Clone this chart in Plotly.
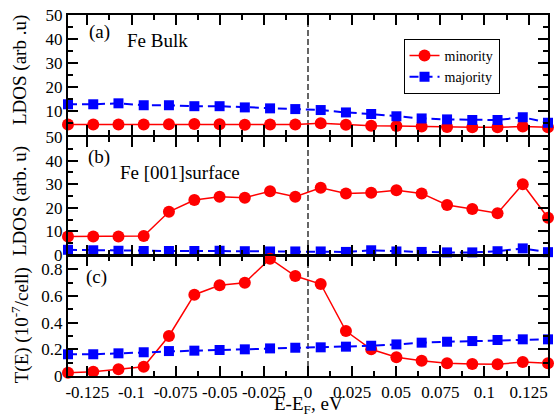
import plotly.graph_objects as go
from plotly.subplots import make_subplots

# ---------------- data ----------------
energy_ev = [-0.136, -0.1217, -0.1074, -0.0931, -0.0788, -0.0644, -0.0501, -0.0358, -0.0215, -0.0072,
             0.0072, 0.0215, 0.0358, 0.0501, 0.0644, 0.0788, 0.0931, 0.1074, 0.1217, 0.136]

bulk_minority = [4.4, 4.4, 4.4, 4.4, 4.5, 4.6, 4.5, 4.3, 4.4, 4.4,
                 4.9, 4.3, 3.9, 3.75, 3.5, 3.3, 3.2, 3.2, 3.5, 3.2]
bulk_majority = [12.8, 12.8, 13.2, 12.4, 12.4, 12.0, 12.0, 11.5, 11.1, 10.8,
                 10.4, 9.4, 8.75, 7.8, 6.9, 6.5, 6.25, 6.25, 7.4, 5.1]

surface_minority = [7.8, 7.8, 7.8, 8.05, 18.3, 23.3, 24.7, 24.3, 27.0, 24.7,
                    28.5, 26.1, 26.4, 27.4, 26.1, 21.2, 19.5, 17.7, 30.0, 15.8]
surface_majority = [2.2, 2.0, 1.8, 1.7, 1.7, 1.7, 1.8, 1.6, 1.5, 1.5,
                    1.5, 1.3, 2.0, 1.5, 1.3, 1.1, 1.1, 1.6, 2.8, 1.2]

trans_minority = [0.025, 0.032, 0.05, 0.07, 0.30, 0.61, 0.68, 0.70, 0.88, 0.75,
                  0.69, 0.337, 0.20, 0.14, 0.115, 0.095, 0.09, 0.088, 0.105, 0.095]
trans_majority = [0.163, 0.163, 0.17, 0.178, 0.187, 0.19, 0.195, 0.20, 0.207, 0.212,
                  0.215, 0.22, 0.227, 0.237, 0.25, 0.257, 0.262, 0.27, 0.275, 0.275]

x_tick_vals = [-0.125, -0.1, -0.075, -0.05, -0.025, 0, 0.025, 0.05, 0.075, 0.1, 0.125]
x_tick_text = ["-0.125", "-0.1", "-0.075", "-0.05", "-0.025", "0", "0.025", "0.05", "0.075", "0.1", "0.125"]
ldos_a_ticks = [10, 20, 30, 40, 50]
ldos_b_ticks = [0, 10, 20, 30, 40, 50]
trans_ticks = [0, 0.2, 0.4, 0.6, 0.8]
trans_tick_text = ["0", "0.2", "0.4", "0.6", "0.8"]

panel_letters = ["(a)", "(b)", "(c)"]
panel_names = ["Fe Bulk", "Fe [001]surface"]
y_titles = ["LDOS (arb .u)", "LDOS (arb. u)", "T(E) (10<sup>-7</sup>/cell)"]
x_title = "E-E<sub>F</sub>, eV"

# ---------------- figure ----------------
FONT = "Liberation Serif, Times New Roman, serif"
RED = "#ff0000"
BLUE = "#0000ff"

fig = make_subplots(rows=3, cols=1)

series = [
    (1, bulk_minority, bulk_majority, True),
    (2, surface_minority, surface_majority, False),
    (3, trans_minority, trans_majority, False),
]
for row, mino, majo, show in series:
    fig.add_trace(go.Scatter(
        x=energy_ev, y=mino, name="minority", mode="lines+markers",
        line=dict(color=RED, width=1.5),
        marker=dict(symbol="circle", size=12, color=RED),
        showlegend=show, cliponaxis=False), row=row, col=1)
    fig.add_trace(go.Scatter(
        x=energy_ev, y=majo, name="majority", mode="lines+markers",
        line=dict(color=BLUE, width=2, dash="9px,5px"),
        marker=dict(symbol="square", size=10, color=BLUE),
        showlegend=show, cliponaxis=False), row=row, col=1)

# domains (paper fractions)
domains = [[0.6676, 1.0], [0.3352, 0.662], [0.0, 0.3324]]

common_axis = dict(showline=True, linecolor="black", linewidth=2, mirror="ticks",
                   ticks="inside", ticklen=10, tickwidth=1.5, tickcolor="black",
                   showgrid=False, zeroline=False)
minor_common = dict(ticks="inside", ticklen=5, tickwidth=1.5, tickcolor="black")

for i in range(3):
    xa = "xaxis" if i == 0 else f"xaxis{i+1}"
    ya = "yaxis" if i == 0 else f"yaxis{i+1}"
    fig.layout[xa].update(
        range=[-0.136, 0.136], tickvals=x_tick_vals, ticktext=x_tick_text,
        showticklabels=(i == 2),
        minor=dict(dtick=0.0125, tick0=0, **minor_common),
        **common_axis)
    fig.layout[ya].update(domain=domains[i], **common_axis)

fig.layout.yaxis.update(range=[0, 50], tickvals=ldos_a_ticks,
                        minor=dict(dtick=5, tick0=0, **minor_common))
fig.layout.yaxis2.update(range=[0, 50], tickvals=ldos_b_ticks,
                         minor=dict(dtick=5, tick0=0, **minor_common))
fig.layout.yaxis3.update(range=[0, 0.9], tickvals=trans_ticks, ticktext=trans_tick_text,
                         minor=dict(dtick=0.1, tick0=0, **minor_common))

TICKFONT = dict(family="Liberation Serif", size=17, color="black")
fig.update_xaxes(tickfont=TICKFONT)
fig.update_yaxes(tickfont=TICKFONT)

# vertical dashed Fermi line across all panels
for i in range(3):
    xr = "x" if i == 0 else f"x{i+1}"
    yr = "y domain" if i == 0 else f"y{i+1} domain"
    fig.add_shape(type="line", x0=0, x1=0, y0=0, y1=1, xref=xr, yref=yr,
                  line=dict(color="black", width=1.2, dash="6px,3px"), layer="below")

TXT = dict(family=FONT, size=19, color="black")
C = dict(xref="paper", yref="paper", showarrow=False, font=TXT, yanchor="middle")
annotations = [
    dict(text=panel_letters[0], x=0.0664, y=0.953, xanchor="center", **C),
    dict(text=panel_names[0], x=0.118, y=0.928, xanchor="left", **C),
    dict(text=panel_letters[1], x=0.0643, y=0.6066, xanchor="center", **C),
    dict(text=panel_names[1], x=0.105, y=0.565, xanchor="left", **C),
    dict(text=panel_letters[2], x=0.060, y=0.274, xanchor="center", **C),
    dict(text=x_title, x=0.5, y=-0.079, xanchor="center", **C),
]
for txt, yc in zip(y_titles, [0.848, 0.485, 0.141]):
    annotations.append(dict(text=txt, x=-0.0996, y=yc, xanchor="center",
                            textangle=-90, **C))

fig.update_layout(
    width=554, height=416,
    margin=dict(l=68, r=4, t=15, b=40),
    paper_bgcolor="white", plot_bgcolor="white",
    font=dict(family=FONT, size=16, color="black"),
    annotations=annotations,
    legend=dict(x=0.699, y=0.9335, xanchor="left", yanchor="top",
                bordercolor="black", borderwidth=1, bgcolor="white",
                font=dict(family=FONT, size=14, color="black"),
                tracegroupgap=0, itemwidth=30),
)

fig.write_html("out.html", config={"displayModeBar": False},
               post_script="document.body.style.margin='0px';")
